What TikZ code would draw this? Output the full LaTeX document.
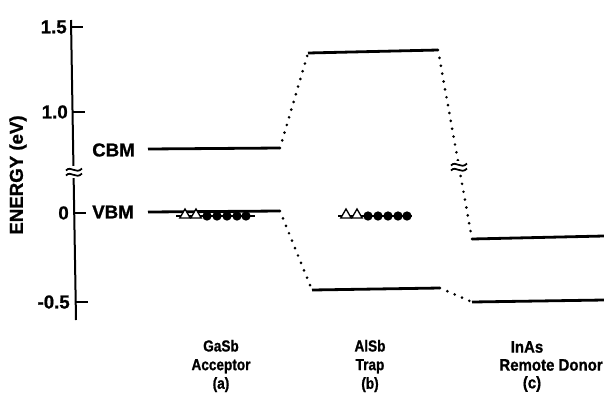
\documentclass[tikz,border=0pt]{standalone}
\usepackage{fontspec}
\setmainfont{Liberation Sans}
\newfontfamily\heavybf[FakeBold=1]{Liberation Sans Bold}
\newfontfamily\narrowbf[FakeStretch=0.85,FakeBold=1]{Liberation Sans Bold}
\newfontfamily\slimbf[FakeStretch=0.9,FakeBold=1]{Liberation Sans Bold}
\usetikzlibrary{calc,shapes.geometric}
\begin{document}
\begin{tikzpicture}[x=0.75pt,y=-0.75pt,
  lvl/.style={line width=2.1pt},
  dotl/.style={line width=2.2pt,line cap=round,dash pattern=on 0pt off 6pt},
  ax/.style={line width=1.5pt},
  brks/.style={line width=1.3pt},
  lab/.style={font=\heavybf\fontsize{14}{16}\selectfont,inner sep=0pt},
  blab/.style={font=\narrowbf\fontsize{12}{14}\selectfont,align=center,inner sep=0pt},
  clab/.style={font=\slimbf\fontsize{12.5}{14}\selectfont,inner sep=0pt},
  tri/.style={draw,line width=1pt,fill=white,regular polygon,regular polygon sides=3,minimum size=9pt,inner sep=0pt},
  dot/.style={circle,fill=black,minimum size=7pt,inner sep=0pt}]
\useasboundingbox (0,0) rectangle (604,408);
% axis
\coordinate (atop) at (71,20);
\coordinate (abot) at (76,320);
\draw[ax] (atop) -- (abot);
\coordinate (t15) at (71.3,27);
\coordinate (t10) at (72.7,112);
\coordinate (t0) at (74.3,213);
\coordinate (tm5) at (75.7,302);
\draw[ax] (t15) -- ++(12,0);
\draw[ax] (t10) -- ++(12,0);
\draw[ax] (t0) -- ++(12,0);
\draw[ax] (tm5) -- ++(12,0);
\node[lab,anchor=east] (l15) at (67,27) {1.5};
\node[lab,anchor=east] (l10) at (68,112) {1.0};
\node[lab,anchor=east] (l0) at (69,213) {0};
\node[lab,anchor=east] (lm5) at (70,302) {-0.5};
\node[lab,rotate=90] (ylab) at (18,175) {ENERGY (eV)};
% axis break
\coordinate (brk) at (74,172);
\fill[white] ($(brk)+(-9,-6)$) rectangle ($(brk)+(9,6)$);
\draw[brks] ($(brk)+(-8,-1.5)$) .. controls ($(brk)+(-3,-7)$) and ($(brk)+(2,3)$) .. ($(brk)+(8,-3.5)$);
\draw[brks] ($(brk)+(-8,3.5)$) .. controls ($(brk)+(-3,-2)$) and ($(brk)+(2,8)$) .. ($(brk)+(8,1.5)$);
% CBM / VBM labels
\node[lab,anchor=west] (cbm) at (92,150) {CBM};
\node[lab,anchor=west] (vbm) at (92,212) {VBM};
% levels
\coordinate (gc1) at (148,149); \coordinate (gc2) at (280,148);
\coordinate (gv1) at (148,212); \coordinate (gv2) at (280,211);
\coordinate (ac1) at (308,53); \coordinate (ac2) at (438,50);
\coordinate (av1) at (312,290); \coordinate (av2) at (440,288);
\coordinate (ic1) at (472,239); \coordinate (ic2) at (604,236);
\coordinate (iv1) at (472,302); \coordinate (iv2) at (604,300);
\draw[lvl] (gc1) -- (gc2);
\draw[lvl] (gv1) -- (gv2);
\draw[lvl] (ac1) -- (ac2);
\draw[lvl] (av1) -- (av2);
\draw[lvl] (ic1) -- (ic2);
\draw[lvl] (iv1) -- (iv2);
\draw[dotl] (gc2) -- (ac1);
\draw[dotl] (gv2) -- (av1);
\draw[dotl] (ac2) -- (ic1);
\draw[dotl] (av2) -- (iv1);
% break on dotted line
\coordinate (brk2) at (459,167);
\fill[white] ($(brk2)+(-9,-6)$) rectangle ($(brk2)+(9,6)$);
\draw[brks] ($(brk2)+(-8,-1.5)$) .. controls ($(brk2)+(-3,-7)$) and ($(brk2)+(2,3)$) .. ($(brk2)+(8,-3.5)$);
\draw[brks] ($(brk2)+(-8,3.5)$) .. controls ($(brk2)+(-3,-2)$) and ($(brk2)+(2,8)$) .. ($(brk2)+(8,1.5)$);
% defect levels
\coordinate (d1a) at (176,216); \coordinate (d1b) at (255,216);
\draw[line width=1.5pt] (d1a) -- (d1b);
\foreach \x/\n in {185/a1,196/a2} \node[tri] (\n) at (\x,215) {};
\foreach \x/\n in {207/a3,217/a4,227/a5,237/a6,246/a7} \node[dot] (\n) at (\x,216) {};
\coordinate (d2a) at (338,216); \coordinate (d2b) at (412,216);
\draw[line width=1.5pt] (d2a) -- (d2b);
\foreach \x/\n in {346/b1,357/b2} \node[tri] (\n) at (\x,215) {};
\foreach \x/\n in {368/b3,378/b4,388/b5,398/b6,407/b7} \node[dot] (\n) at (\x,216) {};
% bottom labels
\node[blab] (ga) at (221,366) {GaSb\\Acceptor\\(a)};
\node[blab] (al) at (370,366) {AlSb\\Trap\\(b)};
\node[clab] (ina) at (527,347) {InAs};
\node[clab,anchor=east] (inb) at (603,365) {Remote Donor};
\node[clab] (inc) at (532,384) {(c)};
\end{tikzpicture}
\end{document}
